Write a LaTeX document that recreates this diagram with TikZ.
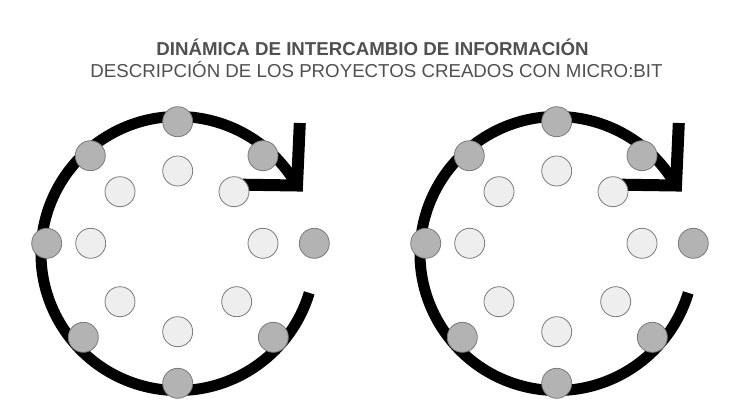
\documentclass[tikz,border=0pt]{standalone}
\usepackage{fontspec}
\setmainfont{Liberation Sans}
\definecolor{txtgray}{HTML}{505050}
\definecolor{darkfill}{HTML}{B3B3B3}
\definecolor{lightfill}{HTML}{EEEEEE}
\definecolor{rimgray}{HTML}{7A7A7A}
\begin{document}
\begin{tikzpicture}[x=1pt,y=-1pt,
  outerdot/.style={circle,draw=rimgray,line width=0.8pt,fill=darkfill,minimum size=30pt,inner sep=0pt},
  innerdot/.style={circle,draw=rimgray,line width=0.8pt,fill=lightfill,minimum size=30pt,inner sep=0pt},
  ringline/.style={line width=11pt,black},
  headline/.style={line width=12pt,black,miter limit=10,line join=miter},
  titletext/.style={text=txtgray,font=\fontsize{18.7}{22}\selectfont,inner sep=0pt,anchor=base}]
\useasboundingbox[fill=white] (0,0) rectangle (730,401);
\node[titletext,font=\fontsize{18.7}{22}\selectfont\bfseries] (t1) at (372.5,56) {DINÁMICA DE INTERCAMBIO DE INFORMACIÓN};
\node[titletext] (t2) at (376.5,78) {DESCRIPCIÓN DE LOS PROYECTOS CREADOS CON MICRO:BIT};
\foreach \s/\n in {0/a,379/b}{
  \begin{scope}[xshift=\s pt]
    \coordinate (\n c) at (178,253.5);
    \draw[ringline] ([shift={(29.7:137pt)}]\n c) arc[start angle=29.7,end angle=343.3,radius=137pt];
    \coordinate (\n h1) at (299.8,123);
    \coordinate (\n h2) at (297,185.5);
    \coordinate (\n h3) at (243,184.7);
    \draw[headline] (\n h1) -- (\n h2) -- (\n h3);
    \node[outerdot] (\n o1) at (177.7,121.7) {};
    \node[outerdot] (\n o2) at (90.3,155.7) {};
    \node[outerdot] (\n o3) at (263,155.7) {};
    \node[outerdot] (\n o4) at (46.7,243.3) {};
    \node[outerdot] (\n o5) at (314.3,243.3) {};
    \node[outerdot] (\n o6) at (83.3,337.3) {};
    \node[outerdot] (\n o7) at (273.3,337.3) {};
    \node[outerdot] (\n o8) at (177.7,383.3) {};
    \node[innerdot] (\n i1) at (177.7,171) {};
    \node[innerdot] (\n i2) at (120,191.7) {};
    \node[innerdot] (\n i3) at (234,191.7) {};
    \node[innerdot] (\n i4) at (90.7,243.3) {};
    \node[innerdot] (\n i5) at (263,243.3) {};
    \node[innerdot] (\n i6) at (120,301.7) {};
    \node[innerdot] (\n i7) at (236.7,301.7) {};
    \node[innerdot] (\n i8) at (177.7,331.7) {};
  \end{scope}
}
\end{tikzpicture}
\end{document}
